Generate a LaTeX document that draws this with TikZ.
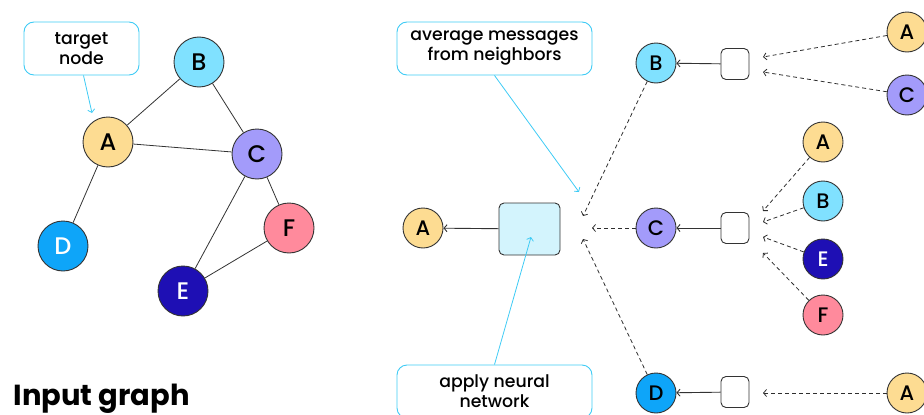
\documentclass[tikz,border=0pt]{standalone}
\usepackage{fontspec}
\setmainfont{Poppins}[UprightFont=* Medium, BoldFont=* Bold]
\usetikzlibrary{arrows.meta}
\definecolor{colA}{HTML}{FDDC92}
\definecolor{colB}{HTML}{80E1FF}
\definecolor{colC}{HTML}{A39BFA}
\definecolor{colD}{HTML}{0EA5F9}
\definecolor{colE}{HTML}{1E0FB4}
\definecolor{colF}{HTML}{FF8A9C}
\definecolor{callout}{HTML}{3ECBF5}
\definecolor{ink}{HTML}{333333}
\definecolor{msgfill}{HTML}{D3F4FD}
\tikzset{
  vtx/.style={circle, draw=ink, line width=0.9pt, inner sep=0pt, text=black,
    font=\fontsize{21}{21}\selectfont},
  big/.style={vtx, minimum size=50pt, font=\fontsize{24}{24}\selectfont},
  small/.style={vtx, minimum size=40pt},
  note/.style={draw=callout, line width=0.9pt, rounded corners=10pt, align=center,
    text=black, font=\fontsize{17.3}{20}\selectfont, inner sep=0pt},
  notearrow/.style={draw=callout, line width=0.8pt, -{Straight Barb[length=3pt,width=7pt]}},
  edge/.style={draw=ink, line width=0.8pt},
  msg/.style={draw=ink!90!black, dashed, dash pattern=on 4pt off 3pt, line width=0.8pt,
    -{Straight Barb[length=3pt,width=7pt]}},
  upd/.style={draw=ink, line width=0.9pt, -{Straight Barb[length=3pt,width=7pt]}},
  nnbox/.style={draw=ink, line width=0.9pt, rounded corners=5pt, inner sep=0pt},
}
\begin{document}
\begin{tikzpicture}[x=1pt,y=-1pt]
\useasboundingbox (0,0) rectangle (924,415);

% ---- input graph ----
\node[big, fill=colA] (gA) at (108,142) {A};
\node[big, fill=colB] (gB) at (199,62) {B};
\node[big, fill=colC] (gC) at (257,154) {C};
\node[big, fill=colD, text=white] (gD) at (63,246) {D};
\node[big, fill=colE, text=white] (gE) at (183,291) {E};
\node[big, fill=colF] (gF) at (289,228) {F};
\draw[edge] (gA) -- (gB);
\draw[edge] (gA) -- (gC);
\draw[edge] (gB) -- (gC);
\draw[edge] (gA) -- (gD);
\draw[edge] (gC) -- (gE);
\draw[edge] (gC) -- (gF);
\draw[edge] (gE) -- (gF);

\node[note, minimum width=115pt, minimum height=53pt] (target) at (81.5,48.5) {target\\node};
\coordinate (targettip) at (92,113);
\draw[notearrow] (target.south) ++(2,0) coordinate (targetfoot) -- (targettip);

\node[anchor=base west, font=\fontsize{29}{29}\selectfont\bfseries] (title) at (10,405) {Input graph};

% ---- computation tree ----
\node[small, fill=colA] (rA) at (423,228) {A};
\node[nnbox, fill=msgfill, minimum width=61pt, minimum height=52pt] (nn) at (529.5,229) {};
\draw[upd] (nn) -- (rA);

\node[small, fill=colB] (tB) at (656,63) {B};
\node[small, fill=colC] (tC) at (656,228) {C};
\node[small, fill=colD] (tD) at (656,393) {D};
\coordinate (aggB) at (583,216);
\coordinate (aggC) at (592,228);
\coordinate (aggD) at (583,239);
\draw[msg] (tB) -- (aggB);
\draw[msg] (tC) -- (aggC);
\draw[msg] (tD) -- (aggD);

% second level: B
\node[nnbox, minimum width=28pt, minimum height=31pt] (bxB) at (735,64) {};
\draw[upd] (bxB) -- (tB);
\node[small, fill=colA] (bA) at (907,32) {A};
\node[small, fill=colC] (bC) at (907,95) {C};
\coordinate (bAin) at (763,57);
\coordinate (bCin) at (763,72);
\draw[msg] (bA) -- (bAin);
\draw[msg] (bC) -- (bCin);

% second level: C
\node[nnbox, minimum width=28pt, minimum height=31pt] (bxC) at (735,228) {};
\draw[upd] (bxC) -- (tC);
\node[small, fill=colA] (cA) at (823,142) {A};
\node[small, fill=colB] (cB) at (823,201) {B};
\node[small, fill=colE, text=white] (cE) at (823,259) {E};
\node[small, fill=colF] (cF) at (823,315) {F};
\coordinate (cAin) at (763,211);
\coordinate (cBin) at (763,222);
\coordinate (cEin) at (763,237);
\coordinate (cFin) at (763,253);
\draw[msg] (cA) -- (cAin);
\draw[msg] (cB) -- (cBin);
\draw[msg] (cE) -- (cEin);
\draw[msg] (cF) -- (cFin);

% second level: D
\node[nnbox, minimum width=28pt, minimum height=31pt] (bxD) at (735,392) {};
\draw[upd] (bxD) -- (tD);
\node[small, fill=colA] (dA) at (907,393) {A};
\coordinate (dAin) at (763,393);
\draw[msg] (dA) -- (dAin);

% callouts
\node[note, minimum width=195pt, minimum height=53pt] (avg) at (494.5,48.5) {average messages\\from neighbors};
\draw[notearrow] (avg.south) -- (579,192);
\node[note, minimum width=195pt, minimum height=53pt] (apply) at (494.5,391.5) {apply neural\\network};
\draw[notearrow] (apply.north) -- (531,237);
\end{tikzpicture}
\end{document}
